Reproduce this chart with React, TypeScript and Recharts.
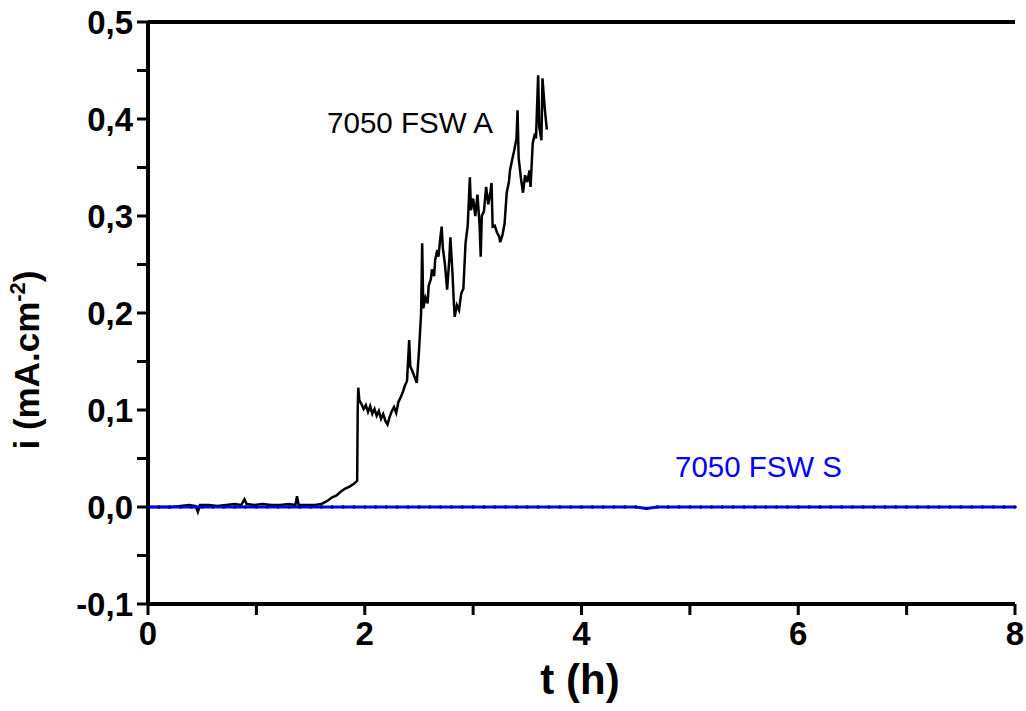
import { LineChart, Line, XAxis, YAxis, ReferenceLine } from "recharts";

// sample A (black) — time in h, current density in mA.cm-2
const aTime = [
  0.0, 0.12, 0.22, 0.3, 0.38, 0.44, 0.46, 0.48, 0.56, 0.64, 0.72, 0.8, 0.86, 0.89, 0.91, 0.98,
  1.06, 1.14, 1.22, 1.3, 1.36, 1.375, 1.39, 1.46, 1.54, 1.6, 1.65, 1.7, 1.74, 1.78, 1.82, 1.86,
  1.9, 1.93, 1.935, 1.94, 1.95, 1.97, 1.99, 2.01, 2.03, 2.05, 2.07, 2.09, 2.11, 2.13, 2.15, 2.17,
  2.19, 2.21, 2.23, 2.25, 2.27, 2.29, 2.31, 2.33, 2.35, 2.37, 2.39, 2.41, 2.42, 2.44, 2.46, 2.48,
  2.5, 2.52, 2.53, 2.54, 2.56, 2.58, 2.59, 2.61, 2.62, 2.64, 2.65, 2.67, 2.68, 2.7, 2.71, 2.72,
  2.74, 2.76, 2.78, 2.79, 2.81, 2.82, 2.83, 2.85, 2.87, 2.89, 2.91, 2.93, 2.95, 2.97, 2.98, 3.0,
  3.02, 3.04, 3.06, 3.07, 3.08, 3.1, 3.12, 3.14, 3.16, 3.17, 3.18, 3.2, 3.22, 3.24, 3.25, 3.27,
  3.29, 3.31, 3.33, 3.34, 3.36, 3.38, 3.4, 3.41, 3.42, 3.44, 3.46, 3.48, 3.5, 3.52, 3.53, 3.55,
  3.57, 3.58, 3.6, 3.61, 3.63, 3.64, 3.66, 3.68,
];
const aCurrent = [
  0.0, 0.0, 0.0, 0.001, 0.002, 0.001, -0.005, 0.002, 0.002, 0.001, 0.002, 0.003, 0.002, 0.008, 0.003, 0.002,
  0.003, 0.002, 0.002, 0.003, 0.002, 0.011, 0.002, 0.002, 0.002, 0.003, 0.006, 0.01, 0.012, 0.016, 0.019, 0.021,
  0.024, 0.027, 0.1, 0.123, 0.11, 0.106, 0.101, 0.105, 0.098, 0.104, 0.096, 0.101, 0.094, 0.099, 0.091, 0.096,
  0.089, 0.085, 0.093, 0.099, 0.103, 0.097, 0.108, 0.113, 0.118, 0.125, 0.13, 0.172, 0.145, 0.14, 0.134, 0.128,
  0.16, 0.2, 0.272, 0.205, 0.216, 0.21, 0.228, 0.235, 0.245, 0.238, 0.255, 0.265, 0.258, 0.28, 0.289, 0.268,
  0.25, 0.224, 0.255, 0.278, 0.24, 0.215, 0.196, 0.208, 0.203, 0.22, 0.225, 0.272, 0.29, 0.34, 0.306, 0.318,
  0.3, 0.322, 0.29, 0.258, 0.3, 0.305, 0.33, 0.312, 0.325, 0.334, 0.289, 0.29, 0.283, 0.279, 0.273, 0.28,
  0.292, 0.324, 0.335, 0.347, 0.358, 0.368, 0.38, 0.409, 0.36, 0.34, 0.324, 0.342, 0.335, 0.347, 0.33, 0.375,
  0.385, 0.38, 0.445, 0.392, 0.378, 0.442, 0.412, 0.389,
];

// sample S (blue), one reading every 0.1 h from 0 to 8 h
const sCurrent = [
  0, 0, 0, 0, 0, 0, 0, 0, 0, 0, 0, 0, 0, 0, 0, 0, 0, 0, 0, 0,
  0, 0, 0, 0, 0, 0, 0, 0, 0, 0, 0, 0, 0, 0, 0, 0, 0, 0, 0, 0,
  0, 0, 0, 0, 0, 0, -0.0015, 0, 0, 0, 0, 0, 0, 0, 0, 0, 0, 0, 0, 0,
  0, 0, 0, 0, 0, 0, 0, 0, 0, 0, 0, 0, 0, 0, 0, 0, 0, 0, 0, 0, 0,
];

const xTicks = [0, 1, 2, 3, 4, 5, 6, 7, 8];
const yTicks = [-0.1, -0.05, 0, 0.05, 0.1, 0.15, 0.2, 0.25, 0.3, 0.35, 0.4, 0.45, 0.5];

const aData = aTime.map((t, k) => ({ t, i: aCurrent[k] }));
const sData = sCurrent.map((v, k) => ({ t: k / 10, i: v }));

const FONT = "'Liberation Sans', Arial, sans-serif";

const XTick = ({ x, y, payload }: any) => {
  if (payload.value % 2 !== 0) return null;
  return (
    <text x={x} y={y} dy="0.71em" textAnchor="middle" fontFamily={FONT} fontWeight="bold" fontSize={33} fill="#000">
      {payload.value}
    </text>
  );
};

const YTick = ({ x, y, payload }: any) => {
  const v = payload.value;
  if (Math.round(v * 100) % 10 !== 0) return null;
  return (
    <text x={x} y={y} dy="0.355em" textAnchor="end" fontFamily={FONT} fontWeight="bold" fontSize={33} fill="#000">
      {v.toFixed(1).replace(".", ",")}
    </text>
  );
};

const axisLine = { stroke: "#000", strokeWidth: 4 };
const tickLine = { stroke: "#000", strokeWidth: 3 };

export default function App() {
  return (
    <div style={{ position: "absolute", left: 0, top: 0, width: 1026, height: 711, background: "#fff" }}>
      <LineChart width={1026} height={711} margin={{ top: 22, right: 11, bottom: 0, left: 0 }}>
        <XAxis
          type="number"
          dataKey="t"
          domain={[0, 8]}
          ticks={xTicks}
          interval={0}
          height={107}
          axisLine={axisLine}
          tickLine={tickLine}
          tickSize={11}
          tickMargin={7}
          tick={<XTick />}
        />
        <YAxis
          yAxisId="l"
          type="number"
          domain={[-0.1, 0.5]}
          ticks={yTicks}
          interval={0}
          width={148}
          axisLine={axisLine}
          tickLine={tickLine}
          tickSize={11}
          tickMargin={4}
          tick={<YTick />}
        />
        <YAxis
          yAxisId="r"
          orientation="right"
          mirror
          type="number"
          domain={[-0.1, 0.5]}
          ticks={yTicks}
          interval={0}
          width={0}
          axisLine={axisLine}
          tickLine={tickLine}
          tickSize={7}
          tick={false}
        />
        <ReferenceLine yAxisId="l" y={0.5} stroke="#000" strokeWidth={4} />
        <Line
          yAxisId="l"
          data={aData}
          dataKey="i"
          type="linear"
          stroke="#000"
          strokeWidth={2.5}
          dot={false}
          isAnimationActive={false}
        />
        <Line
          yAxisId="l"
          data={sData}
          dataKey="i"
          type="linear"
          stroke="#0000ff"
          strokeWidth={3}
          dot={{ r: 1.8, fill: "#00008b", stroke: "none" }}
          isAnimationActive={false}
        />
      </LineChart>
      <svg width={1026} height={711} style={{ position: "absolute", left: 0, top: 0, pointerEvents: "none" }}>
        <text x={327} y={133} fontFamily={FONT} fontSize={29} fill="#000" textLength={166} lengthAdjust="spacingAndGlyphs">
          7050 FSW A
        </text>
        <text x={675} y={477} fontFamily={FONT} fontSize={29} fill="#0000ff" textLength={167} lengthAdjust="spacingAndGlyphs">
          7050 FSW S
        </text>
        <text x={580} y={694} textAnchor="middle" fontFamily={FONT} fontWeight="bold" fontSize={42} fill="#000">
          t (h)
        </text>
        <text transform="translate(39,360) rotate(-90)" textAnchor="middle" fontFamily={FONT} fontWeight="bold" fontSize={35} fill="#000">
          i (mA.cm<tspan fontSize={22} dy={-14}>-2</tspan>
          <tspan dy={14}>)</tspan>
        </text>
      </svg>
    </div>
  );
}
